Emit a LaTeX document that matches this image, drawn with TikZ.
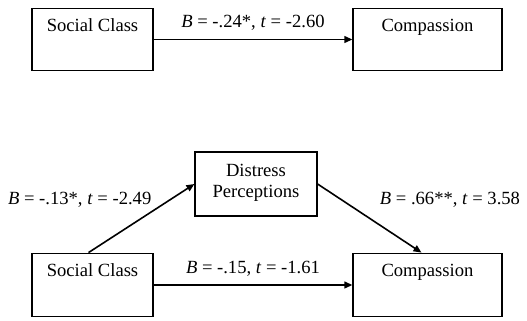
\documentclass[tikz,border=0pt]{standalone}
\usepackage{fontspec}
\setmainfont{Liberation Serif}
\usetikzlibrary{arrows.meta,positioning}

\begin{document}
\begin{tikzpicture}[x=0.5pt,y=-0.5pt,font=\fontsize{9.3}{10.5}\selectfont,>={Triangle[length=4pt,width=3.4pt]},
var/.style={draw,line width=0.6pt,inner sep=0pt,text height=11.5pt,text depth=19.8pt,minimum width=#1},
med/.style={draw,line width=0.6pt,inner sep=0pt,minimum width=61pt,minimum height=32pt,align=center},
arr/.style={->,line width=0.8pt},
coef/.style={inner sep=1pt}]
\useasboundingbox (0,0) rectangle (527,321);
% total effect
\node[var=60.5pt] (class1) at (92.5,39.5) {Social Class};
\node[var=74.5pt] (comp1) at (427.5,39.5) {Compassion};
\draw[arr] (class1)--node[above=3pt,coef]{\textit{B} = -.24*, \textit{t} = -2.60}(comp1);
% mediation model
\node[med,text depth=3pt] (distress) at (256,184) {Distress\\Perceptions};
\node[var=60.5pt,text depth=20.3pt] (class2) at (92.5,285) {Social Class};
\node[var=74.5pt,text depth=20.3pt] (comp2) at (427.5,285) {Compassion};
\draw[arr] ([xshift=-2pt]class2.north)--node[pos=.62,anchor=south east,coef]{\textit{B} = -.13*, \textit{t} = -2.49}(distress.west);
\draw[arr] (distress.east)--node[pos=.38,anchor=south west,xshift=10pt,coef]{\textit{B} = .66**, \textit{t} = 3.58}([xshift=-3pt]comp2.north);
\draw[arr] (class2)--node[above=3pt,coef]{\textit{B} = -.15, \textit{t} = -1.61}(comp2);
\end{tikzpicture}
\end{document}
